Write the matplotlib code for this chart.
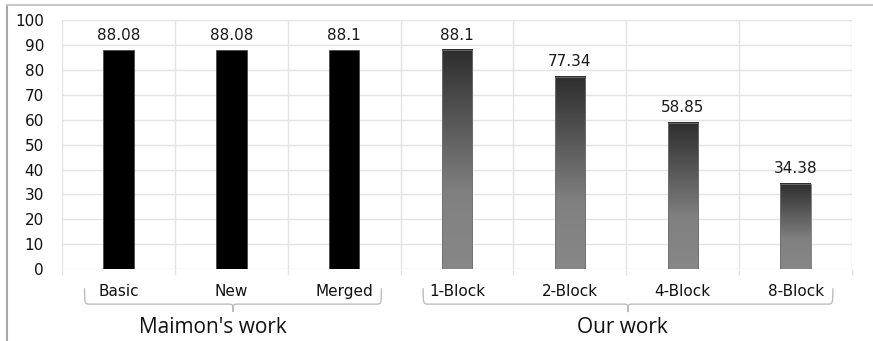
import numpy as np
import matplotlib
matplotlib.use("Agg")
import matplotlib.pyplot as plt
from matplotlib.colors import LinearSegmentedColormap
from matplotlib.path import Path
from matplotlib.patches import PathPatch, Rectangle
from matplotlib.lines import Line2D
from matplotlib.transforms import blended_transform_factory

# --- Data ---
categories = ["Basic", "New", "Merged", "1-Block", "2-Block", "4-Block", "8-Block"]
values = [88.08, 88.08, 88.1, 88.1, 77.34, 58.85, 34.38]
value_labels = ["88.08", "88.08", "88.1", "88.1", "77.34", "58.85", "34.38"]
groups = ["Maimon's work", "Our work"]
group_members = [[0, 1, 2], [3, 4, 5, 6]]
yticks = list(range(0, 101, 10))

BAR_W = 0.27
GRID_C = "#e3e3e3"
BRACE_C = "#bdbdbd"
LABEL_SHIFT = [-0.18, -0.05]  # group captions sit a little left of the brace tip

fig = plt.figure(figsize=(8.73, 3.41), dpi=100)
ax = fig.add_axes([0.071, 0.211, 0.905, 0.729])

x = np.arange(len(categories))

# gradient used for the "Our work" bars: dark top fading to grey
grad_cmap = LinearSegmentedColormap.from_list(
    "bar_grad", [(0.0, "#878787"), (0.35, "#808080"), (1.0, "#2e2e2e")])
grad = np.linspace(0, 1, 256).reshape(-1, 1)

for i, (xi, v) in enumerate(zip(x, values)):
    x0, x1 = xi - BAR_W / 2, xi + BAR_W / 2
    if i < 3:
        ax.bar(xi, v, width=BAR_W, color="black", edgecolor="#4a4a4a",
               linewidth=0.6, zorder=3)
    else:
        ax.imshow(grad, cmap=grad_cmap, origin="lower", aspect="auto",
                  extent=[x0, x1, 0, v], zorder=3, interpolation="bilinear")
        ax.add_patch(Rectangle((x0, 0), BAR_W, v, fill=False,
                               edgecolor="#707070", linewidth=0.6, zorder=4))
    ax.text(xi, v + 3.0, value_labels[i], ha="center", va="bottom",
            fontsize=11, family="DejaVu Sans", color="#1a1a1a")

ax.set_xlim(-0.5, len(categories) - 0.5)
ax.set_ylim(0, 100)

# grid: horizontal at each y tick, vertical between categories
ax.set_yticks(yticks)
ax.set_xticks(x)
ax.set_xticklabels(categories, fontsize=11, color="#111111")
ax.set_xticks(np.arange(-0.5, len(categories)), minor=True)
ax.tick_params(axis="x", which="major", length=0, pad=11)
ax.tick_params(axis="x", which="minor", length=4, color=GRID_C, width=1)
ax.tick_params(axis="y", length=0, pad=13, labelsize=11, labelcolor="#111111")
ax.grid(axis="y", color=GRID_C, linewidth=1, zorder=0)
ax.grid(axis="x", which="minor", color=GRID_C, linewidth=1, zorder=0)
ax.set_axisbelow(True)
for s in ax.spines.values():
    s.set_visible(False)

# curly braces under each group
trans = blended_transform_factory(ax.transData, ax.transAxes)
y_top, y_mid, y_tip = -0.077, -0.141, -0.173
for name, members, shift in zip(groups, group_members, LABEL_SHIFT):
    xl = members[0] - 0.30
    xr = members[-1] + 0.33
    xc = (xl + xr) / 2
    r = 0.05
    verts = [
        (xl, y_top), (xl, y_mid), (xl, y_mid), (xl + r, y_mid),
        (xc - r, y_mid), (xc, y_mid), (xc, y_mid), (xc, y_tip),
        (xc, y_mid), (xc, y_mid), (xc + r, y_mid),
        (xr - r, y_mid), (xr, y_mid), (xr, y_mid), (xr, y_top),
    ]
    codes = [
        Path.MOVETO, Path.CURVE4, Path.CURVE4, Path.CURVE4,
        Path.LINETO, Path.CURVE4, Path.CURVE4, Path.CURVE4,
        Path.CURVE4, Path.CURVE4, Path.CURVE4,
        Path.LINETO, Path.CURVE4, Path.CURVE4, Path.CURVE4,
    ]
    ax.add_patch(PathPatch(Path(verts, codes), transform=trans, fill=False,
                           edgecolor=BRACE_C, linewidth=1.0, clip_on=False))
    ax.text(xc + shift, -0.234, name, transform=trans, ha="center", va="center",
            fontsize=15, family="Open Sans", color="#111111")

# thin frame lines on the left and top of the figure
fig.add_artist(Line2D([0.008, 0.008], [0.0, 0.985], color="#a8a8a8", lw=1.5))
fig.add_artist(Line2D([0.008, 1.0], [0.985, 0.985], color="#c8c8c8", lw=1.5))

fig.savefig("out.png", dpi=100)
